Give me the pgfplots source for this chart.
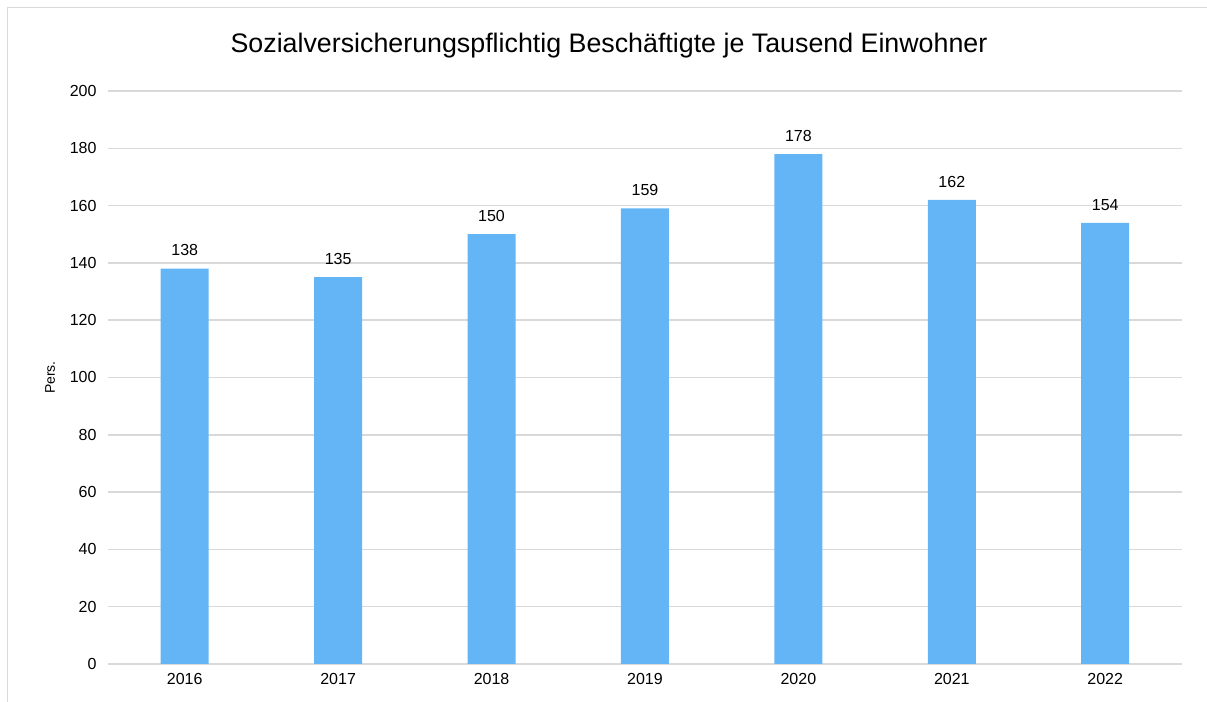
\documentclass[border=0pt]{standalone}
\usepackage{fontspec}
\setmainfont{Liberation Sans}
\usepackage{pgfplots}
\pgfplotsset{compat=1.18}
\definecolor{barblue}{HTML}{64B5F6}
\definecolor{gridgray}{HTML}{D9D9D9}
\begin{document}
\begin{tikzpicture}[x=1bp,y=1bp]
\path[use as bounding box] (0,0) rectangle (1207,702);
\draw[gridgray, line width=1.5bp] (7.5,0) -- (7.5,694.5) -- (1207,694.5);
\node[font=\fontsize{26.8bp}{31bp}\selectfont] at (609,656) {Sozialversicherungspflichtig Beschäftigte je Tausend Einwohner};
\begin{axis}[
  at={(108bp,38bp)}, anchor=south west,
  scale only axis, width=1074bp, height=573bp,
  xmin=-0.5, xmax=6.5, ymin=0, ymax=200,
  xtick={0,1,2,3,4,5,6},
  xticklabels={2016,2017,2018,2019,2020,2021,2022},
  ytick={0,20,...,200},
  axis line style={draw=none},
  major tick length=0pt,
  ymajorgrids, grid style={gridgray, line width=1.5bp},
  ticklabel style={font=\fontsize{16bp}{19bp}\selectfont},
  /pgf/number format/assume math mode=true,
  yticklabel style={xshift=-8bp},
  xticklabel style={yshift=-6bp},
  ylabel={Pers.},
  ylabel style={font=\fontsize{14bp}{17bp}\selectfont, at={(axis description cs:-0.054,0.5)}, anchor=center},
  nodes near coords,
  nodes near coords style={font=\fontsize{16bp}{19bp}\selectfont, anchor=south, yshift=9bp},
  clip=false,
]
\addplot[ybar, bar width=48bp, fill=barblue, draw=none] coordinates {
(0,138) (1,135) (2,150) (3,159) (4,178) (5,162) (6,154)};
\end{axis}
\end{tikzpicture}
\end{document}
